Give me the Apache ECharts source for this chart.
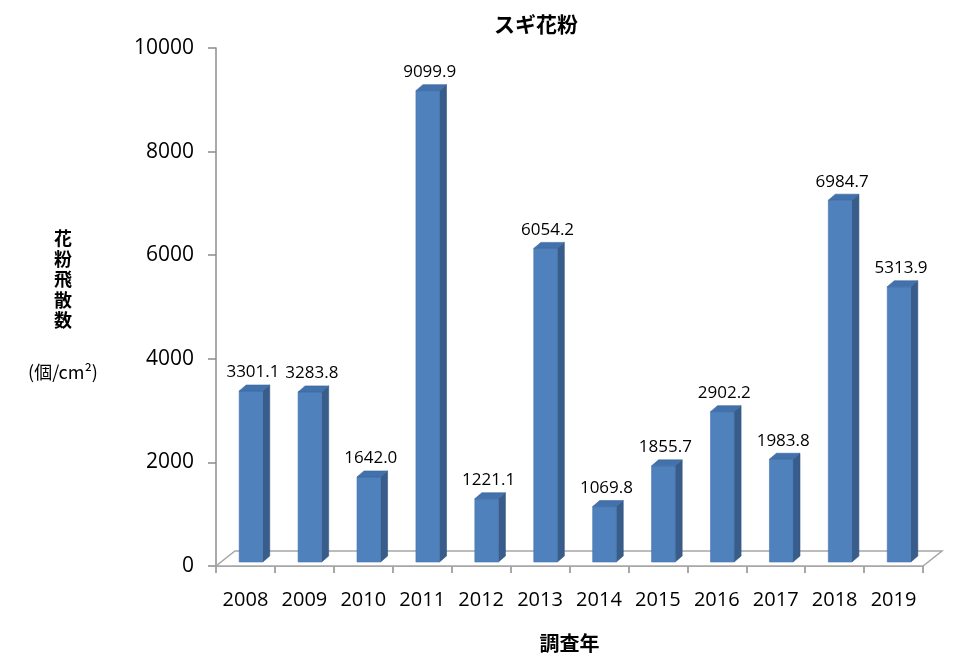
<!DOCTYPE html>
<html>
<head>
<meta charset="utf-8">
<script src="https://cdn.jsdelivr.net/npm/echarts@6/dist/echarts.min.js"></script>
<style>html,body{margin:0;padding:0;background:#fff;}#chart{width:956px;height:664px;}</style>
</head>
<body>
<div id="chart"></div>
<script>
const years = ['2008','2009','2010','2011','2012','2013','2014','2015','2016','2017','2018','2019'];
const pollen = [3301.1, 3283.8, 1642.0, 9099.9, 1221.1, 6054.2, 1069.8, 1855.7, 2902.2, 1983.8, 6984.7, 5313.9];
const yMin = 0, yMax = 10000, yStep = 2000;
const titleText = 'スギ花粉';
const yNameText = '花粉飛散数';
const yUnitText = '(個/cm²)';
const xNameText = '調査年';

const chart = echarts.init(document.getElementById('chart'), null, {renderer: 'canvas'});
const AX = '#8c8c8c';
const FLOOR_DX = 19, FLOOR_DY = 15;
const BAR_DX = 7, BAR_DY = 6;
const SHIFT_X = 5.5, SHIFT_Y = 4;
const LATIN = '"Open Sans", "Noto Sans", sans-serif';
const CJK = '"Noto Sans CJK JP", "Noto Sans", sans-serif';

function floorItem(params, api) {
  const cs = params.coordSys;
  const x0 = cs.x, x1 = cs.x + cs.width, y0 = cs.y + cs.height;
  return {
    type: 'polygon',
    shape: {points: [[x0, y0], [x1, y0], [x1 + FLOOR_DX, y0 - FLOOR_DY], [x0 + FLOOR_DX, y0 - FLOOR_DY]]},
    style: {fill: '#ffffff', stroke: '#a6a6a6', lineWidth: 1.5}
  };
}

function barItem(params, api) {
  const i = api.value(0), v = api.value(1);
  const p0 = api.coord([i, 0]);
  const p1 = api.coord([i, v]);
  const band = api.size([1, 0])[0];
  const w = band * 0.4;
  const cx = p0[0] + SHIFT_X;
  const xl = cx - w / 2, xr = cx + w / 2;
  const yb = p0[1] - SHIFT_Y, yt = p1[1] - SHIFT_Y;
  return {
    type: 'group',
    children: [
      {type: 'polygon', shape: {points: [[xr, yt], [xr + BAR_DX, yt - BAR_DY], [xr + BAR_DX, yb - BAR_DY], [xr, yb]]},
       style: {fill: '#385d8a', stroke: '#34557f', lineWidth: 0.6}},
      {type: 'rect', shape: {x: xl, y: yt, width: w, height: yb - yt},
       style: {fill: '#4f81bd', stroke: '#4675ae', lineWidth: 0.6}},
      {type: 'polygon', shape: {points: [[xl, yt], [xl + BAR_DX, yt - BAR_DY], [xr + BAR_DX, yt - BAR_DY], [xr, yt]]},
       style: {fill: '#4271ab', stroke: '#3b679c', lineWidth: 0.6}},
      {type: 'text', style: {text: v.toFixed(1), x: cx + 2, y: yt - BAR_DY - 4, textAlign: 'center', textVerticalAlign: 'bottom',
        font: '17px ' + LATIN, fill: '#000'}}
    ]
  };
}

const option = {
  backgroundColor: '#fff',
  animation: false,
  title: {text: titleText, left: 531, top: 9, textAlign: 'center',
    textStyle: {fontFamily: CJK, fontSize: 21, fontWeight: 'bold', color: '#000'}},
  grid: {left: 216, right: 33, top: 48, bottom: 98, containLabel: false, outerBoundsMode: 'none'},
  xAxis: {
    type: 'category', data: years,
    name: xNameText, nameLocation: 'middle', nameGap: 67,
    nameTextStyle: {fontFamily: CJK, fontSize: 20, fontWeight: 'bold', color: '#000'},
    axisLine: {show: true, lineStyle: {color: AX, width: 1.5}},
    axisTick: {show: true, length: 7, interval: 0, lineStyle: {color: AX, width: 1.5}},
    axisLabel: {margin: 24, interval: 0, hideOverlap: false, fontFamily: LATIN, fontSize: 20, color: '#000'},
    splitLine: {show: false}
  },
  yAxis: {
    type: 'value', min: yMin, max: yMax, interval: yStep,
    axisLine: {show: true, lineStyle: {color: AX, width: 1.5}},
    axisTick: {show: true, length: 8, lineStyle: {color: AX, width: 1.5}},
    axisLabel: {margin: 22, fontFamily: LATIN, fontSize: 21, color: '#000', formatter: v => String(v)},
    splitLine: {show: false}
  },
  graphic: [
    {type: 'text', x: 63, y: 228, style: {text: yNameText.split('').join('\n'), textAlign: 'center', textVerticalAlign: 'top',
      font: 'bold 18px ' + CJK, lineHeight: 20.5, fill: '#000'}},
    {type: 'text', x: 63, y: 372, style: {text: yUnitText, textAlign: 'center', textVerticalAlign: 'middle',
      font: '18px ' + CJK, fill: '#000'}}
  ],
  series: [
    {type: 'custom', renderItem: floorItem, data: [[0, 0]], z: 1, silent: true},
    {type: 'custom', renderItem: barItem, data: pollen.map((v, i) => [i, v]), z: 2, silent: true,
     encode: {x: 0, y: 1}}
  ]
};
chart.setOption(option);
</script>
</body>
</html>
